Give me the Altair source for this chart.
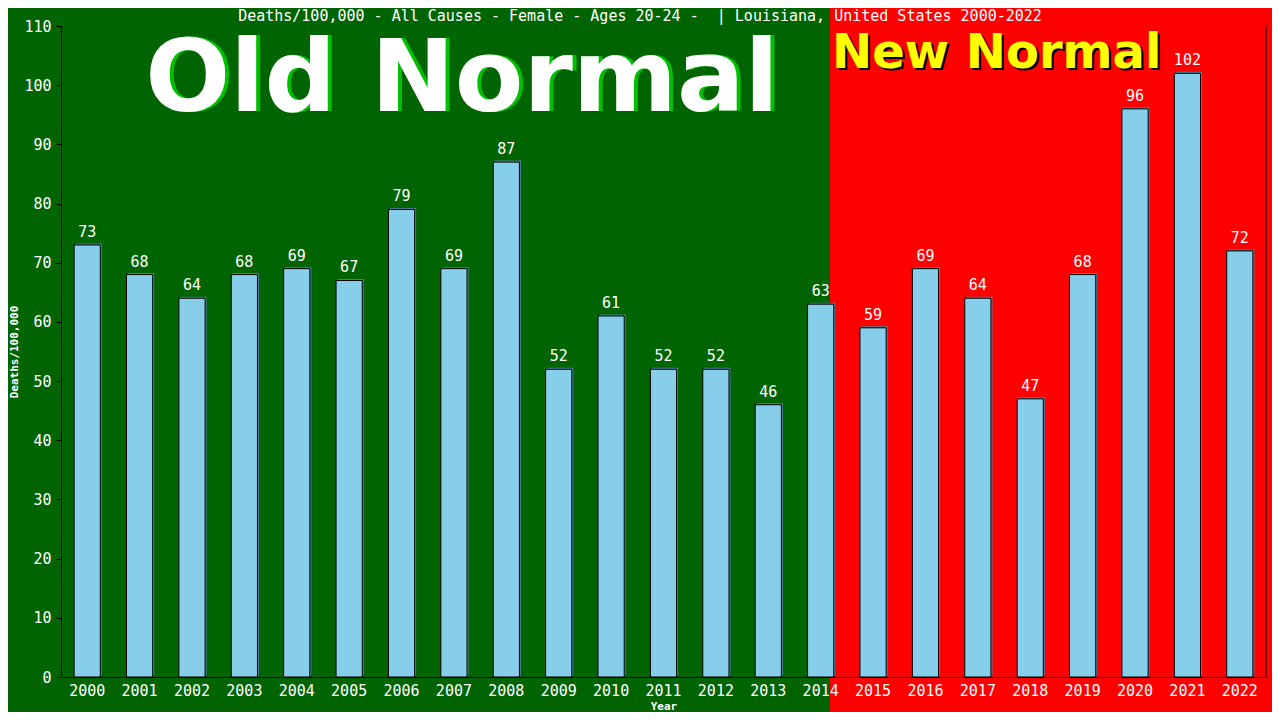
import altair as alt
import pandas as pd

years = [str(y) for y in range(2000, 2023)]
values = [73, 68, 64, 68, 69, 67, 79, 69, 87, 52, 61, 52, 52, 46, 63, 59, 69, 64, 47, 68, 96, 102, 72]
y_ticks = list(range(0, 111, 10))
title_text = "Deaths/100,000 - All Causes - Female - Ages 20-24 -\u00a0 | Louisiana, United States 2000-2022"

df = pd.DataFrame({"Year": years, "Value": values})

W, H = 1205, 651
MONO = "DejaVu Sans Mono"

xenc = alt.X("Year:N", sort=years, title="Year",
             scale=alt.Scale(paddingInner=0.5, paddingOuter=0.25),
             axis=alt.Axis(labelAngle=0, labelColor="white", labelFont=MONO, labelFontSize=15,
                           ticks=False, domainColor="black", labelPadding=6, zindex=1,
                           titleColor="white", titleFont=MONO, titleFontSize=11,
                           titleFontWeight="bold", titlePadding=2))
yenc = alt.Y("Value:Q", title="Deaths/100,000",
             scale=alt.Scale(domain=[0, 110], nice=False),
             axis=alt.Axis(values=y_ticks, labelColor="white", labelFont=MONO, labelFontSize=15,
                           tickColor="black", tickSize=5, domainColor="black", grid=False, zindex=1,
                           labelPadding=5, titleColor="white", titleFont=MONO, titleFontSize=11,
                           titleFontWeight="bold", titlePadding=4))

base = alt.Chart(df)

green_bg = alt.Chart(pd.DataFrame({"a": [0]})).mark_rect(color="#006400").encode(
    x=alt.value(-60), x2=alt.value(769), y=alt.value(-30), y2=alt.value(H + 60))

shadow = base.mark_bar(color="#4f7f9a", xOffset=1.5, yOffset=-1.5).encode(x=xenc, y=yenc)
bars = base.mark_bar(color="#87CEEB", stroke="black", strokeWidth=1).encode(x=xenc, y=yenc)
labels = base.mark_text(color="white", font=MONO, fontSize=15, baseline="alphabetic", dy=-8).encode(
    x=xenc, y=yenc, text="Value:Q")

right_line = alt.Chart(pd.DataFrame({"a": [0]})).mark_rule(color="black").encode(
    x=alt.value(W), y=alt.value(0), y2=alt.value(H))

title = alt.Chart(pd.DataFrame({"t": [title_text]})).mark_text(
    color="white", font=MONO, fontSize=15, baseline="middle", align="center").encode(
    text="t:N", x=alt.value(579), y=alt.value(-10))

old_shadow = alt.Chart(pd.DataFrame({"t": ["Old Normal"]})).mark_text(
    color="#00c000", font="DejaVu Sans", fontWeight="bold", fontSize=100,
    baseline="alphabetic", align="center").encode(text="t:N", x=alt.value(405), y=alt.value(85))
old_text = alt.Chart(pd.DataFrame({"t": ["Old Normal"]})).mark_text(
    color="white", font="DejaVu Sans", fontWeight="bold", fontSize=100,
    baseline="alphabetic", align="center").encode(text="t:N", x=alt.value(401), y=alt.value(85))

new_shadow = alt.Chart(pd.DataFrame({"t": ["New Normal"]})).mark_text(
    color="black", font="DejaVu Sans", fontWeight="bold", fontSize=48,
    baseline="alphabetic", align="left").encode(text="t:N", x=alt.value(773), y=alt.value(44))
new_text = alt.Chart(pd.DataFrame({"t": ["New Normal"]})).mark_text(
    color="#ffff00", font="DejaVu Sans", fontWeight="bold", fontSize=48,
    baseline="alphabetic", align="left").encode(text="t:N", x=alt.value(771), y=alt.value(42))

chart = alt.layer(green_bg, old_shadow, old_text, new_shadow, new_text, title,
                  shadow, bars, labels, right_line).properties(
    width=W, height=H,
    padding={"left": 53, "top": 18, "right": 6, "bottom": 35},
    autosize=alt.AutoSizeParams(type="none"),
    background="#FF0000",
).configure_view(stroke=None)

chart.save("out.html", embed_options={"renderer": "svg", "actions": False})
